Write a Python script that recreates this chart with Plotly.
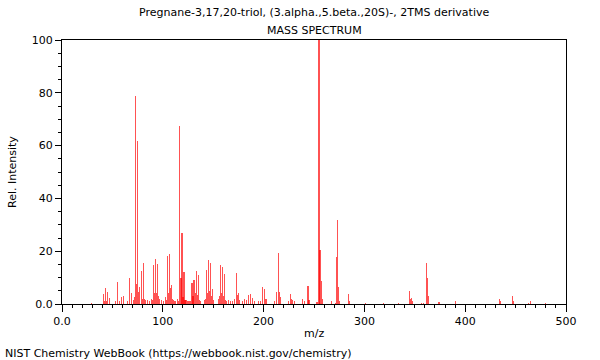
import plotly.graph_objects as go

# m/z values and relative intensities
mz = [29, 41, 42, 43, 44, 45, 47, 53, 55, 57, 59, 61, 65, 67, 69, 71, 72, 73, 74, 75, 76, 77,
      79, 80, 81, 82, 83, 85, 87, 89, 90, 91, 92, 93, 94, 95, 96, 97, 99, 101, 103, 104, 105,
      106, 107, 108, 109, 110, 111, 112, 113, 115, 116, 117, 118, 119, 120, 121, 122, 123, 125,
      127, 129, 130, 131, 132, 133, 134, 135, 136, 137, 141, 142, 143, 144, 145, 146, 147, 148,
      149, 150, 155, 156, 157, 158, 159, 160, 161, 162, 163, 165, 167, 169, 171, 173, 174, 175,
      176, 179, 181, 183, 185, 187, 189, 191, 195, 197, 199, 201, 202, 203, 211, 213, 215, 216,
      217, 225, 227, 228, 229, 231, 239, 241, 244, 245, 253, 255, 256, 257, 258, 267, 271, 272,
      273, 274, 275, 284, 285, 301, 319, 334, 345, 346, 347, 348, 357, 359, 362, 363, 364, 374,
      390, 434, 435, 447, 448, 463, 465, 480]
intensity = [0.5, 3.8, 1.0, 5.9, 1.0, 4.4, 2.1, 1.3, 8.5, 1.0, 2.8, 3.0, 1.0, 9.7, 4.2, 1.5, 2.5,
             78.9, 7.6, 61.6, 4.5, 6.5,
             12.6, 1.9, 15.4, 2.0, 1.5, 1.5, 1.0, 2.0, 1.5, 14.9, 4.0, 17.0, 4.0, 15.2, 3.0, 2.0,
             1.5, 1.0, 2.5, 1.5, 18.0,
             4.0, 18.9, 6.0, 7.3, 2.0, 1.5, 1.0, 1.0, 2.0, 1.0, 67.3, 9.9, 26.9, 2.5, 12.0, 1.5,
             1.5, 1.0,
             1.0, 7.8, 3.0, 9.1, 4.0, 12.6, 3.5, 11.0, 1.5, 1.0, 1.5, 2.0, 12.9, 4.0, 16.7, 5.0,
             15.7, 3.0,
             5.6, 1.5, 2.0, 3.0, 14.6, 4.0, 13.9, 3.0, 11.5, 1.5, 1.0, 1.5, 1.0, 1.0, 2.0, 11.6,
             3.4, 4.0,
             1.5, 1.0, 2.0, 1.5, 3.3, 3.8, 2.4, 1.0, 1.0, 1.0, 6.6, 5.6, 2.0, 2.0, 1.0, 4.4, 19.2,
             4.7,
             2.5, 1.0, 3.7, 2.0, 1.5, 1.0, 1.8, 1.0, 6.8, 1.5, 0.8, 100.0, 20.5, 8.7, 1.9, 1.1,
             0.5, 17.7,
             31.8, 6.3, 1.0, 3.8, 1.0, 0.5, 0.4, 0.3, 5.0, 1.8, 2.4, 1.0, 0.5, 0.5, 15.7, 9.7,
             3.2, 0.9,
             1.3, 1.9, 1.0, 3.2, 1.3, 0.5, 1.3, 0.5]

title_line1 = "Pregnane-3,17,20-triol, (3.alpha.,5.beta.,20S)-, 2TMS derivative"
title_line2 = "MASS SPECTRUM"
x_title = "m/z"
y_title = "Rel. Intensity"
footer = "NIST Chemistry WebBook (https://webbook.nist.gov/chemistry)"

x_tickvals = [0, 100, 200, 300, 400, 500]
x_ticktext = ["0.0", "100", "200", "300", "400", "500"]
y_tickvals = [0, 20, 40, 60, 80, 100]
y_ticktext = ["0.0", "20", "40", "60", "80", "100"]

FONT = "DejaVu Sans"

# plot area spans x 62..566, y 40..304 on the 600x360 page (body margin removed below)
W, H = 600, 360
L, T, R, B = 62, 40, 34, 56
pw, ph = W - L - R, H - T - B


def ax(px):
    return (px - L) / pw


def ay(py):
    return (H - B - py) / ph


fig = go.Figure()
fig.add_trace(go.Bar(
    x=mz, y=intensity, width=1.1,
    marker=dict(color="rgba(255,0,0,0.68)", line=dict(width=0)),
    hoverinfo="x+y",
))

common = dict(xref="paper", yref="paper", showarrow=False, yanchor="middle",
              font=dict(size=11, family=FONT, color="black"))
fig.update_layout(
    width=W, height=H,
    margin=dict(l=L, r=R, t=T, b=B, pad=0),
    paper_bgcolor="white", plot_bgcolor="white",
    showlegend=False, bargap=0,
    font=dict(family=FONT, size=11, color="black"),
    annotations=[
        dict(text=title_line1, x=ax(314), y=ay(13), xanchor="center", **common),
        dict(text=title_line2, x=ax(314), y=ay(30), xanchor="center", **common),
        dict(text=x_title, x=ax(314), y=ay(333), xanchor="center", **common),
        dict(text=y_title, x=ax(12), y=ay(172), xanchor="center", textangle=-90, **common),
        dict(text=footer, x=ax(3), y=ay(353), xanchor="left", **common),
    ],
)

fig.update_xaxes(
    range=[0, 500], tickvals=x_tickvals, ticktext=x_ticktext,
    ticks="outside", ticklen=7, tickcolor="black", tickwidth=1,
    minor=dict(dtick=10, tick0=0, ticks="outside", ticklen=3, tickcolor="black"),
    showline=True, linecolor="black", linewidth=1, mirror=True,
    showgrid=False, zeroline=False, tickfont=dict(size=11),
)
fig.update_yaxes(
    range=[0, 100], tickvals=y_tickvals, ticktext=y_ticktext,
    ticks="outside", ticklen=6, tickcolor="black", tickwidth=1,
    minor=dict(dtick=5, tick0=0, ticks="outside", ticklen=3, tickcolor="black"),
    showline=True, linecolor="black", linewidth=1, mirror=True,
    showgrid=False, zeroline=False, tickfont=dict(size=11),
)

fig.write_html("out.html", config={"displayModeBar": False})

# remove the browser's default 8px body margin so the figure fills the window
with open("out.html", "r", encoding="utf-8") as f:
    html = f.read()
html = html.replace("<head>", "<head><style>html,body{margin:0;padding:0;overflow:hidden;}</style>", 1)
with open("out.html", "w", encoding="utf-8") as f:
    f.write(html)
